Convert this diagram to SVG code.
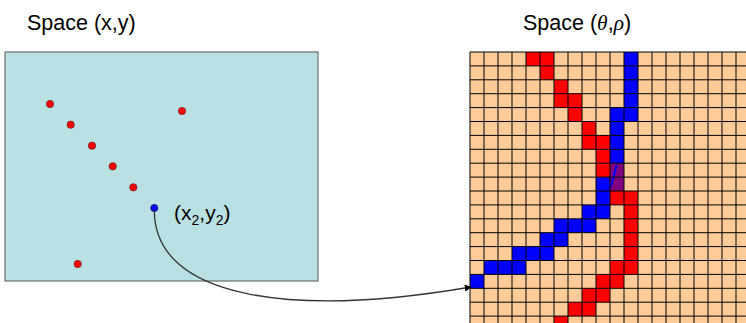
<svg xmlns="http://www.w3.org/2000/svg" width="746" height="323" viewBox="0 0 746 323">
<defs>
<style>
.title{font-family:"Liberation Sans",Arial,sans-serif;font-size:21.5px;fill:#000}
.lbl{font-family:"Liberation Sans",Arial,sans-serif;font-size:21px;fill:#000}
.greek{font-family:"Liberation Serif","DejaVu Serif",serif;font-style:italic}
.pt{fill:#ff0000;stroke:#7a1010;stroke-width:0.8}
.ptb{fill:#0000ff;stroke:#101060;stroke-width:0.8}
.r{fill:#ff0000}
.b{fill:#0000ff}
.p{fill:#800080}
.grid{fill:none;stroke:#000;stroke-width:1}
.conn{fill:none;stroke:#333;stroke-width:1.3}
</style>
<marker id="arr" viewBox="0 0 10 10" refX="9" refY="5" markerWidth="7" markerHeight="7" markerUnits="userSpaceOnUse" orient="auto">
<path d="M0,0 L10,5 L0,10 z" fill="#000"/>
</marker>
</defs>
<rect width="746" height="323" fill="#fff"/>

<g id="title-xy">
<text class="title" x="27" y="30">Space (x,y)</text>
</g>
<g id="title-theta-rho">
<text class="title" x="523" y="30">Space (<tspan class="greek">θ</tspan>,<tspan class="greek">ρ</tspan>)</text>
</g>

<g id="image-space">
<rect x="5" y="52" width="313" height="229" fill="#b9e0e3" stroke="#555" stroke-width="1"/>
<circle class="pt" cx="50" cy="104" r="3.6"/>
<circle class="pt" cx="182" cy="111" r="3.6"/>
<circle class="pt" cx="70.7" cy="124.7" r="3.6"/>
<circle class="pt" cx="92" cy="145.7" r="3.6"/>
<circle class="pt" cx="112.7" cy="166.3" r="3.6"/>
<circle class="pt" cx="133.3" cy="187.3" r="3.6"/>
<circle class="pt" cx="77.7" cy="264" r="3.6"/>
</g>

<g id="point-x2y2">
<circle class="ptb" cx="154.3" cy="208" r="3.6"/>
<text class="lbl" x="174" y="220">(x<tspan font-size="14" dy="5">2</tspan><tspan dy="-5">,y</tspan><tspan font-size="14" dy="5">2</tspan><tspan dy="-5">)</tspan></text>
</g>

<g id="hough-space">
<rect x="470" y="52" width="276" height="271" fill="#ffcc99"/>
<g id="red-cells" class="r">
<rect x="526" y="52" width="14" height="13.9"/>
<rect x="540" y="52" width="14" height="13.9"/>
<rect x="540" y="65.9" width="14" height="13.9"/>
<rect x="554" y="79.8" width="14" height="13.9"/>
<rect x="554" y="93.7" width="14" height="13.9"/>
<rect x="568" y="93.7" width="14" height="13.9"/>
<rect x="568" y="107.6" width="14" height="13.9"/>
<rect x="582" y="121.5" width="14" height="13.9"/>
<rect x="582" y="135.4" width="14" height="13.9"/>
<rect x="596" y="135.4" width="14" height="13.9"/>
<rect x="596" y="149.3" width="14" height="13.9"/>
<rect x="596" y="163.2" width="14" height="13.9"/>
<rect x="610" y="191" width="14" height="13.9"/>
<rect x="624" y="191" width="14" height="13.9"/>
<rect x="624" y="204.9" width="14" height="13.9"/>
<rect x="624" y="218.8" width="14" height="13.9"/>
<rect x="624" y="232.7" width="14" height="13.9"/>
<rect x="624" y="246.6" width="14" height="13.9"/>
<rect x="610" y="260.5" width="14" height="13.9"/>
<rect x="624" y="260.5" width="14" height="13.9"/>
<rect x="596" y="274.4" width="14" height="13.9"/>
<rect x="610" y="274.4" width="14" height="13.9"/>
<rect x="582" y="288.3" width="14" height="13.9"/>
<rect x="596" y="288.3" width="14" height="13.9"/>
<rect x="568" y="302.2" width="14" height="13.9"/>
<rect x="582" y="302.2" width="14" height="13.9"/>
<rect x="554" y="316.1" width="14" height="13.9"/>
</g>
<g id="blue-cells" class="b">
<rect x="624" y="52" width="14" height="13.9"/>
<rect x="624" y="65.9" width="14" height="13.9"/>
<rect x="624" y="79.8" width="14" height="13.9"/>
<rect x="624" y="93.7" width="14" height="13.9"/>
<rect x="610" y="107.6" width="14" height="13.9"/>
<rect x="624" y="107.6" width="14" height="13.9"/>
<rect x="610" y="121.5" width="14" height="13.9"/>
<rect x="610" y="135.4" width="14" height="13.9"/>
<rect x="610" y="149.3" width="14" height="13.9"/>
<rect x="596" y="177.1" width="14" height="13.9"/>
<rect x="596" y="191" width="14" height="13.9"/>
<rect x="582" y="204.9" width="14" height="13.9"/>
<rect x="596" y="204.9" width="14" height="13.9"/>
<rect x="554" y="218.8" width="14" height="13.9"/>
<rect x="568" y="218.8" width="14" height="13.9"/>
<rect x="582" y="218.8" width="14" height="13.9"/>
<rect x="540" y="232.7" width="14" height="13.9"/>
<rect x="554" y="232.7" width="14" height="13.9"/>
<rect x="512" y="246.6" width="14" height="13.9"/>
<rect x="526" y="246.6" width="14" height="13.9"/>
<rect x="540" y="246.6" width="14" height="13.9"/>
<rect x="484" y="260.5" width="14" height="13.9"/>
<rect x="498" y="260.5" width="14" height="13.9"/>
<rect x="512" y="260.5" width="14" height="13.9"/>
<rect x="470" y="274.4" width="14" height="13.9"/>
</g>
<g id="overlap-cells" class="p">
<rect x="610" y="163.2" width="14" height="13.9"/>
<rect x="610" y="177.1" width="14" height="13.9"/>
</g>
<line x1="616.7" y1="165" x2="610.8" y2="186.7" stroke="#0000ff" stroke-width="2"/>
<path class="grid" d="M470,52V323M484,52V323M498,52V323M512,52V323M526,52V323M540,52V323M554,52V323M568,52V323M582,52V323M596,52V323M610,52V323M624,52V323M638,52V323M652,52V323M666,52V323M680,52V323M694,52V323M708,52V323M722,52V323M736,52V323
M470,52H746M470,65.9H746M470,79.8H746M470,93.7H746M470,107.6H746M470,121.5H746M470,135.4H746M470,149.3H746M470,163.2H746M470,177.1H746M470,191H746M470,204.9H746M470,218.8H746M470,232.7H746M470,246.6H746M470,260.5H746M470,274.4H746M470,288.3H746M470,302.2H746M470,316.1H746"/>
</g>

<g id="connectors">
<path class="conn" d="M154.3,210 C154,298 290,318 471,287" marker-end="url(#arr)"/>
</g>
</svg>
